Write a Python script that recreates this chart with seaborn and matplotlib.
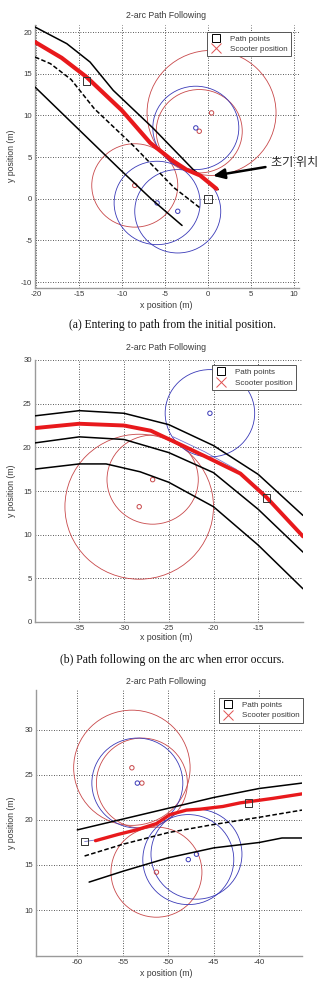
import matplotlib
matplotlib.use("Agg")
import matplotlib.pyplot as plt
from matplotlib.patches import Circle
from matplotlib.lines import Line2D
import seaborn as sns
import numpy as np

sns.set_style("white")
plt.rcParams['font.family'] = ['Liberation Sans', 'DejaVu Sans']

# ---------------- data: panel (a) ----------------
a_top_x = [-20.1, -16.4, -13.7, -11.0, -6.4, -1.7, 1.2]
a_top_y = [20.6, 18.6, 16.4, 13.0, 8.5, 3.5, 1.1]
a_mid_x = [-20.1, -18.3, -15.9, -13.2, -8.6, -3.9, -0.9]
a_mid_y = [17.0, 16.2, 14.3, 10.8, 6.3, 1.3, -1.1]
a_bot_x = [-20.1, -16.5, -12.6, -10.2, -6.5, -3.0]
a_bot_y = [13.4, 9.8, 5.9, 3.5, -0.1, -3.2]
a_trk_x = [-20.1, -17.0, -14.1, -10.0, -6.7, -4.0, -2.5, -0.9, 1.0]
a_trk_y = [18.8, 16.9, 14.6, 10.6, 6.7, 4.5, 3.5, 2.8, 1.2]
a_pts_x = [-14.1, 0.0]
a_pts_y = [14.1, 0.0]
a_circ_red = [(0.43, 10.3, 7.5), (-1.0, 8.1, 5.0), (-8.5, 1.6, 5.0)]
a_circ_blue = [(-1.4, 8.5, 5.0), (-5.9, -0.5, 5.0), (-3.5, -1.5, 5.0)]

# ---------------- data: panel (b) ----------------
b_top_x = [-40, -35, -30, -25, -20, -15, -10]
b_top_y = [23.6, 24.2, 23.9, 22.6, 20.2, 16.9, 12.2]
b_mid_x = [-40, -35, -30, -25, -20, -15, -10]
b_mid_y = [20.5, 21.2, 20.9, 19.4, 17.1, 12.9, 8.0]
b_bot_x = [-40, -35, -32, -28.2, -25, -20, -15, -10]
b_bot_y = [17.5, 18.1, 18.1, 17.2, 16.0, 13.2, 8.8, 3.8]
b_trk_x = [-40, -35, -30, -27, -24.5, -20.8, -17.0, -14.1, -10.0]
b_trk_y = [22.2, 22.7, 22.5, 21.9, 20.7, 18.9, 17.0, 14.3, 9.8]
b_blu_x = [-24.5, -21.0, -17.5, -14.5]
b_blu_y = [21.2, 19.5, 17.5, 14.9]
b_pts_x = [-14.1]
b_pts_y = [14.2]
b_circ_red = [(-26.8, 16.3, 5.1), (-28.3, 13.2, 8.3)]
b_circ_blue = [(-20.4, 23.9, 5.0)]

# ---------------- data: panel (c) ----------------
c_top_x = [-60, -55, -50, -45, -40, -35.3]
c_top_y = [18.9, 20.1, 21.3, 22.5, 23.5, 24.1]
c_mid_x = [-59.2, -55, -50, -45, -40, -35.3]
c_mid_y = [16.0, 17.3, 18.6, 19.5, 20.3, 21.1]
c_bot_x = [-58.7, -55, -50, -45, -40, -37.5, -35.3]
c_bot_y = [13.1, 14.3, 15.8, 16.9, 17.5, 18.0, 18.0]
c_trk_x = [-58.0, -55.5, -53.5, -51.3, -49.8, -48.0, -46.5, -44.0, -42.1, -38.5, -35.3]
c_trk_y = [17.7, 18.4, 18.9, 19.6, 20.6, 21.1, 21.2, 21.5, 21.9, 22.4, 22.9]
c_blu_x = [-59.2, -57.9]
c_blu_y = [17.6, 17.8]
c_pts_x = [-59.2, -41.2]
c_pts_y = [17.6, 21.9]
c_circ_red = [(-54.0, 25.8, 6.4), (-52.9, 24.1, 5.0), (-51.3, 14.2, 5.0)]
c_circ_blue = [(-53.4, 24.1, 5.0), (-47.8, 15.6, 5.0), (-46.9, 16.2, 5.0)]

TITLE = "2-arc Path Following"
XLABEL = "x position (m)"
YLABEL = "y position (m)"
LEG = ["Path points", "Scooter position"]
CAPTIONS = ["(a) Entering to path from the initial position.",
            "(b) Path following on the arc when error occurs."]
ANNOT = "초기 위치"

RED = "#e8191c"
CRED = "#c8484a"
CBLUE = "#3a3ab8"
TXT = "#3a3a3a"

W, H = 325, 984
fig = plt.figure(figsize=(W / 100, H / 100), dpi=100)


def px_axes(l, r, t, b):
    return fig.add_axes([l / W, 1 - b / H, (r - l) / W, (b - t) / H])


def line(ax, xs, ys, **kw):
    sns.lineplot(x=xs, y=ys, sort=False, estimator=None, ax=ax, legend=False, **kw)


def panel(ax, top, mid, bot, trk, pts, cred, cblue, xlim, ylim, xt, yt, mid_dashed, trk_lw, blu=None):
    for (cx, cy, r) in cred:
        ax.add_patch(Circle((cx, cy), r, fill=False, ec=CRED, lw=0.6, zorder=2))
    for (cx, cy, r) in cblue:
        ax.add_patch(Circle((cx, cy), r, fill=False, ec=CBLUE, lw=0.6, zorder=2))
    sns.scatterplot(x=[c[0] for c in cred], y=[c[1] for c in cred], marker='o', s=10,
                    facecolor='none', edgecolor=CRED, linewidth=0.7, ax=ax, zorder=3)
    sns.scatterplot(x=[c[0] for c in cblue], y=[c[1] for c in cblue], marker='o', s=10,
                    facecolor='none', edgecolor=CBLUE, linewidth=0.7, ax=ax, zorder=3)
    line(ax, top[0], top[1], color='k', lw=1.1, zorder=4)
    line(ax, mid[0], mid[1], color='k', lw=1.1, zorder=4,
         linestyle=(0, (3, 1.5)) if mid_dashed else '-')
    line(ax, bot[0], bot[1], color='k', lw=1.1, zorder=4)
    if blu is not None:
        line(ax, blu[0], blu[1], color=CBLUE, lw=0.6, alpha=0.7, zorder=4)
    line(ax, trk[0], trk[1], color=RED, lw=trk_lw, zorder=5)
    sns.scatterplot(x=pts[0], y=pts[1], marker='s', s=30, facecolor='none',
                    edgecolor='#333333', linewidth=0.7, ax=ax, zorder=6)
    ax.set_xlim(*xlim)
    ax.set_ylim(*ylim)
    ax.set_xticks(xt)
    ax.set_yticks(yt)
    ax.set_xticklabels([str(v) for v in xt])
    ax.set_yticklabels([str(v) for v in yt])
    ax.tick_params(direction='in', length=2, width=0.5, labelsize=5.6, colors=TXT, pad=2)
    ax.grid(True, color='#222222', linestyle=(0, (1, 2)), lw=0.6)
    for s in ['top', 'right']:
        ax.spines[s].set_visible(False)
    for s in ['left', 'bottom']:
        ax.spines[s].set_color('#9a9a9a')
        ax.spines[s].set_linewidth(1.0)
    ax.set_xlabel('')
    ax.set_ylabel('')


def legend(ax, anchor):
    h = [Line2D([], [], marker='s', mfc='none', mec='k', ls='', ms=5.5, mew=0.7),
         Line2D([], [], marker='x', color='#e05050', ls='', ms=6.5, mew=0.7)]
    lg = ax.legend(h, LEG, loc='upper right', bbox_to_anchor=anchor, fontsize=5.8,
                   frameon=True, fancybox=False, edgecolor='#555555', framealpha=1,
                   borderpad=0.4, handletextpad=1.0, labelspacing=0.35, handlelength=1.5)
    lg.get_frame().set_linewidth(0.7)
    for t in lg.get_texts():
        t.set_color(TXT)
    lg.set_zorder(10)


# panel (a)
axa = px_axes(35, 299, 25, 288)
panel(axa, (a_top_x, a_top_y), (a_mid_x, a_mid_y), (a_bot_x, a_bot_y), (a_trk_x, a_trk_y),
      (a_pts_x, a_pts_y), a_circ_red, a_circ_blue, (-20.1, 10.6), (-10.7, 20.84),
      [-20, -15, -10, -5, 0, 5, 10], [-10, -5, 0, 5, 10, 15, 20], True, 3.0)
legend(axa, (0.985, 0.99))
axa.annotate(ANNOT, xy=(0.6, 2.75), xytext=(7.4, 4.4), ha='left', va='center',
             fontsize=8.7, family=['Noto Sans CJK KR', 'DejaVu Sans'], color='#2a2a2a',
             annotation_clip=False,
             arrowprops=dict(arrowstyle='-|>,head_length=0.8,head_width=0.35', color='k',
                             lw=1.8, shrinkA=2, shrinkB=0))

# panel (b)
axb = px_axes(34.5, 303, 360, 622)
panel(axb, (b_top_x, b_top_y), (b_mid_x, b_mid_y), (b_bot_x, b_bot_y), (b_trk_x, b_trk_y),
      (b_pts_x, b_pts_y), b_circ_red, b_circ_blue, (-40, -10), (0, 30),
      [-35, -30, -25, -20, -15], [0, 5, 10, 15, 20, 25, 30], False, 2.8,
      blu=(b_blu_x, b_blu_y))
legend(axb, (0.99, 0.995))

# panel (c)
axc = px_axes(36, 302, 690, 956)
panel(axc, (c_top_x, c_top_y), (c_mid_x, c_mid_y), (c_bot_x, c_bot_y), (c_trk_x, c_trk_y),
      (c_pts_x, c_pts_y), c_circ_red, c_circ_blue, (-64.54, -35.3), (4.89, 34.44),
      [-60, -55, -50, -45, -40], [10, 15, 20, 25, 30], True, 2.4,
      blu=(c_blu_x, c_blu_y))
legend(axc, (1.02, 0.985))

# titles / labels / captions in pixel positions
for ty in [15, 347, 682]:
    fig.text(166 / W, 1 - ty / H, TITLE, ha='center', va='center', fontsize=6.3, color=TXT)
for ty in [306, 637, 973]:
    fig.text(166 / W, 1 - ty / H, XLABEL, ha='center', va='center', fontsize=6.3, color=TXT)
for ty in [156, 491, 823]:
    fig.text(12 / W, 1 - ty / H, YLABEL, ha='center', va='center', fontsize=6.3,
             rotation=90, color=TXT)
for cy, cap in zip([325, 660], CAPTIONS):
    fig.text(172 / W, 1 - cy / H, cap, ha='center', va='center', fontsize=8.4,
             family=['Liberation Serif', 'DejaVu Serif'], color='#111111')

fig.savefig("out.png", dpi=100)
